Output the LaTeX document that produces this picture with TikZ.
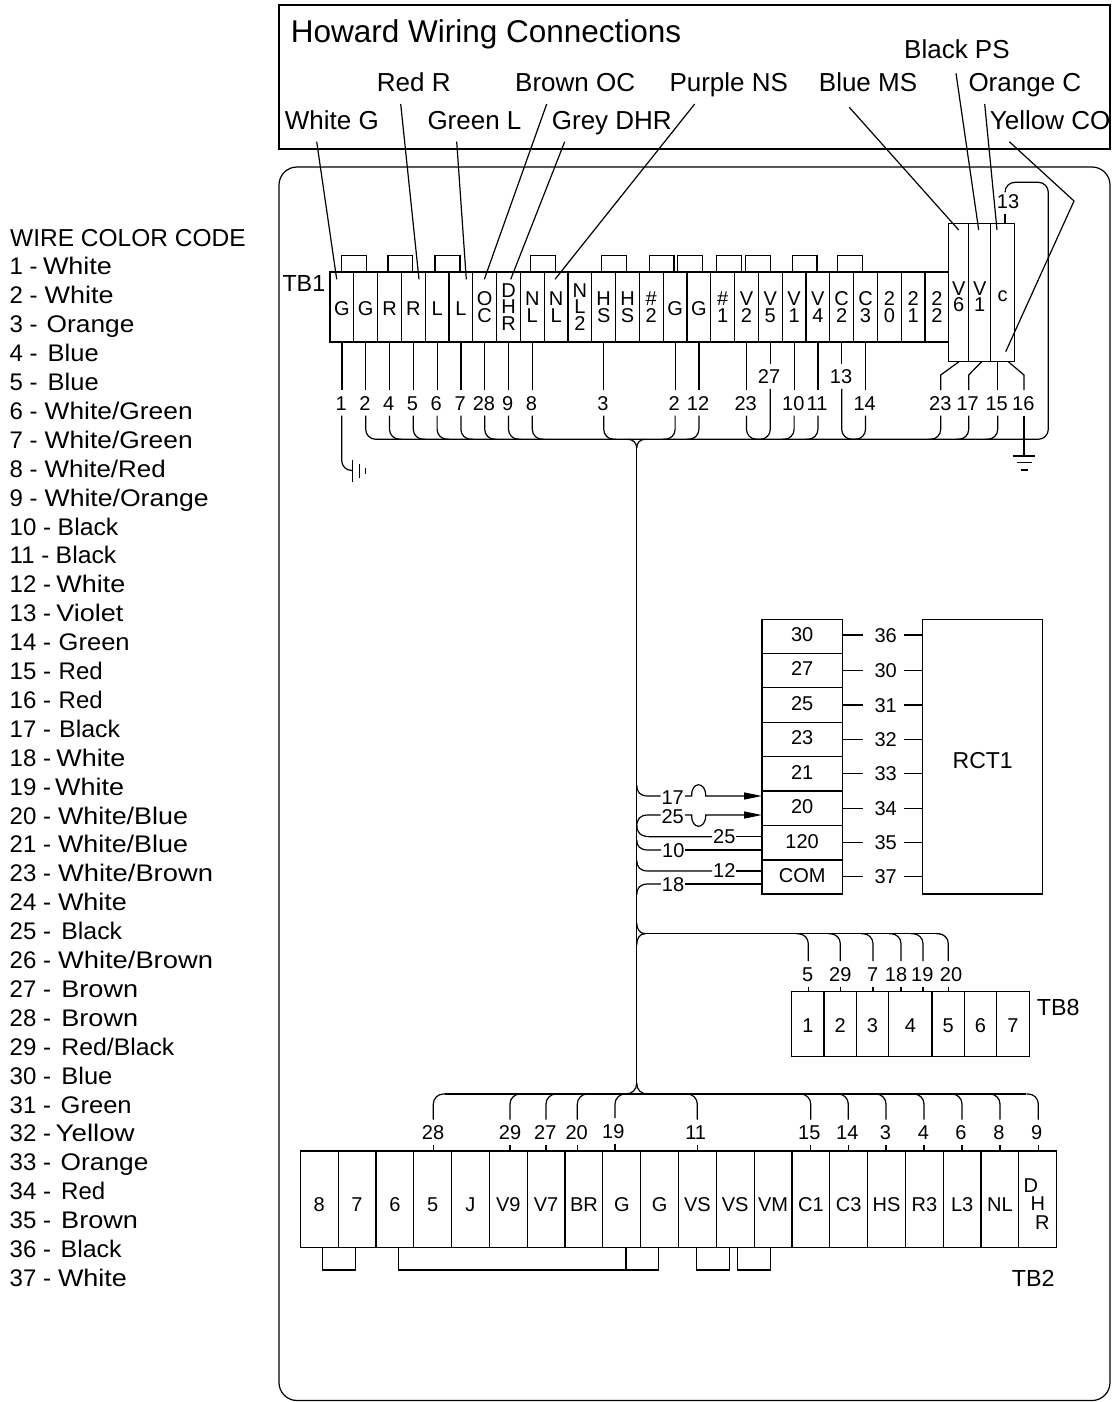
\documentclass[tikz,border=0pt]{standalone}
\usepackage{fontspec}
\setmainfont{Liberation Sans}
\usetikzlibrary{arrows.meta}
\newcommand{\legline}[4]{\makebox[#2pt][l]{#1 -\ }\resizebox{#3pt}{\height}{#4}}
\tikzset{
  x=1pt,y=-1pt,
  ln/.style={line width=1.2pt,black},
  wire/.style={ln,rounded corners=10pt},
  cell/.style={ln,draw,inner sep=0pt,outer sep=0pt,font=\fontsize{20}{16.5}\selectfont},
  lone/.style={text height=17.4pt,text depth=0pt},
  stack/.style={align=center},
  num/.style={font=\fontsize{20}{20}\selectfont,anchor=base,text height=14.3pt,text depth=0pt,inner xsep=0pt,inner ysep=5.5pt,outer sep=0pt},
  lbl/.style={font=\fontsize{26}{26}\selectfont,anchor=base west,inner sep=0pt},
  leg/.style={font=\fontsize{24}{24}\selectfont,anchor=base west,inner sep=0pt},
  tag/.style={font=\fontsize{23.3}{23.3}\selectfont,anchor=base west,inner sep=0pt},
  jump/.style={ln},
  head/.style={-{Triangle[length=18pt,width=7pt]}},
}
\begin{document}
\begin{tikzpicture}
\useasboundingbox (0,0) rectangle (1111,1402);
\fill[white] (0,0) rectangle (1111,1402);
% frames
\node[ln,draw,inner sep=0,outer sep=0,minimum width=831pt,minimum height=144pt] (hdr) at (694.5,77) {};
\draw[ln,rounded corners=18pt] (279,167) rectangle (1110,1400.5);
\node[anchor=base west,inner sep=0,font=\fontsize{31.5}{31.5}\selectfont] (title) at (290.7,42.7) {Howard Wiring Connections};
% legend
\node[anchor=base west,inner sep=0,font=\fontsize{24.5}{24.5}\selectfont] (legh) at (10,246) {WIRE COLOR CODE};
\foreach \nn/\sx/\ww/\word [count=\ci from 1] in {1/33.3/69/White,2/35/69/White,3/37/87.7/Orange,4/38/51/Blue,5/38/51/Blue,6/35/148/{White/Green},7/35/148/{White/Green},8/35/121/{White/Red},9/35/164/{White/Orange},10/48/60.7/Black,11/46/60.7/Black,12/46.7/69/White,13/46.7/67/Violet,14/49/71/Green,15/49/44/Red,16/49/44/Red,17/49.5/61/Black,18/46.7/69/White,19/45.5/69/White,20/48.3/130/{White/Blue},21/48.3/130/{White/Blue},23/48.3/155/{White/Brown},24/48.3/69/White,25/51.7/60.7/Black,26/48.3/155/{White/Brown},27/51.7/76.7/Brown,28/51.7/76.7/Brown,29/51.7/113/{Red/Black},30/51.7/51/Blue,31/51/71/Green,32/46/79/Yellow,33/51/87.7/Orange,34/51.5/44/Red,35/51.5/76.7/Brown,36/51/61/Black,37/48.3/69/White}
  \node[leg] (leg\ci) at (9.5,{246+28.9*\ci}) {\legline{\nn}{\sx}{\ww}{\word}};
% TB1
\foreach \st/\tx [count=\ci from 0] in {lone/G,lone/G,lone/R,lone/R,lone/L,lone/L,stack/{O\\C},stack/{D\\H\\R},stack/{N\\L},stack/{N\\L},stack/{N\\L\\2},stack/{H\\S},stack/{H\\S},stack/{\#\\2},lone/G,lone/G,stack/{\#\\1},stack/{V\\2},stack/{V\\5},stack/{V\\1},stack/{V\\4},stack/{C\\2},stack/{C\\3},stack/{2\\0},stack/{2\\1},stack/{2\\2}}
  \node[cell,\st,minimum width=23.8pt,minimum height=70pt] (c\ci) at ({330+23.8*(\ci+.5)},307) {\tx};
\node[tag] (tb1) at (282.3,291) {TB1};
\foreach \xa/\xb [count=\ci] in {341.7/366.7,388/412.7,435/460,530.3/555.3,601.7/626.3,649.7/674,677.7/702.7,716.7/741.7,745.7/770.3,792.3/817,837.3/862.3}
  \draw[jump] (\xa,272) -- (\xa,255.3) -- (\xb,255.3) -- (\xb,272);
% tall terminals
\node[cell,minimum width=20pt,minimum height=138pt,align=center] (tv6) at (958.7,292.7) {\rule{0pt}{21.3pt}V\\6};
\node[cell,minimum width=22pt,minimum height=138pt,align=center] (tv1) at (979.7,292.7) {\rule{0pt}{21.3pt}V\\1};
\node[cell,minimum width=24pt,minimum height=138pt,text height=18pt,text depth=0pt] (tc) at (1002.7,292.7) {c};
% leader labels
\node[lbl] (lwhite) at (284.7,130) {White G};
\node[lbl] (lred) at (376.7,91.7) {Red R};
\node[lbl] (lgreen) at (427.3,130) {Green L};
\node[lbl] (lbrown) at (515,91.7) {Brown OC};
\node[lbl] (lgrey) at (551.7,130) {Grey DHR};
\node[lbl] (lpurple) at (669.3,91.7) {Purple NS};
\node[lbl] (lblue) at (818.7,91.7) {Blue MS};
\node[lbl] (lblack) at (904,58.3) {Black PS};
\node[lbl] (lorange) at (968.3,91.7) {Orange C};
\node[lbl] (lyellow) at (989.7,130) {Yellow CO};
\draw[ln] (316.7,141.7) -- (336.7,279.3);
\draw[ln] (400.7,104) -- (419,279.3);
\draw[ln] (456.7,141.7) -- (466.3,279.3);
\draw[ln] (546.7,104) -- (484.3,279.3);
\draw[ln] (564.7,141.7) -- (510.7,279.3);
\draw[ln] (694.7,104) -- (555,279.3);
\draw[ln] (849.3,107.3) -- (958.7,230);
\draw[ln] (956,73.3) -- (978.7,230);
\draw[ln] (984.7,104) -- (997,230);
\draw[ln] (1009.3,141.7) -- (1074,201) -- (1005.7,351.7);
% TB1 bus and wires
\coordinate (busa) at (0,439.3);
\coordinate (busb) at (0,1094);
\coordinate (busc) at (0,933.7);
\foreach \ci/\tx/\dr in {1/2/12,2/4/12,3/5/12,4/6/12,5/7/12,6/28/12,7/9/12,8/8/12,11/3/12,14/2/-12,15/12/-12,17/23/12,19/10/-12,20/11/-12,22/14/-12}{
  \path (c\ci.south) ++(-.8,68) node[num] (wa\ci) {\tx};
  \draw[ln] (c\ci.south) -- (c\ci.south |- wa\ci.north);
  \draw[wire] (c\ci.south |- wa\ci.south) -- (c\ci.south |- busa) -- ++(\dr,0);
}
\path (c0.south) ++(-.6,68) node[num] (wa0) {1};
\draw[ln] (c0.south) -- (c0.south |- wa0.north);
\node[num] (wa18) at (769,383.3) {27};
\draw[ln] (c18.south) -- (c18.south |- wa18.north);
\draw[wire] (c18.south |- wa18.south) -- (c18.south |- busa) -- ++(-12,0);
\node[num] (wa21) at (841,383.3) {13};
\draw[ln] (c21.south) -- (c21.south |- wa21.north);
\draw[wire] (c21.south |- wa21.south) -- (c21.south |- busa) -- ++(12,0);
% tall terminal wires
\node[num] (wb1) at (940.3,410) {23};
\node[num] (wb2) at (967.7,410) {17};
\node[num] (wb3) at (996.7,410) {15};
\node[num] (wb4) at (1023.3,410) {16};
\draw[ln] (tv6.south) ++(.3,0) -- (940.7,375) -- (940.7,390);
\draw[ln] (tv1.south) ++(2,0) -- (968.7,375) -- (968.7,390);
\draw[ln] (tc.south) ++(-5,0) -- (997.7,390);
\draw[ln] (tc.south) ++(5.6,0) -- (1024,375) -- (1024,390);
\draw[wire] (940.7,415.5) -- (940.7 ,439.3) -- ++(-12,0);
\draw[wire] (968.7,415.5) -- (968.7,439.3) -- ++(-12,0);
\draw[wire] (997.7,415.5) -- (997.7,439.3) -- ++(-12,0);
\draw[ln] (1024,415.5) -- (1024,456);
% bus with the loop to the 13 stub
\node[num,inner ysep=2pt] (w13) at (1008,208.3) {13};
\draw[ln] (1005,223.7) -- (1005,214);
\draw[wire] (377,439.3) -- (1048.3,439.3) -- (1048.3,182.3) -- (1005,182.3) -- (1005,192);
% grounds
\draw[wire] (341.7,415.5) -- (341.7,470.5) -- (352.3,470.5);
\draw[ln] (352.3,460) -- (352.3,481.7);
\draw[ln] (359.3,464) -- (359.3,477.7);
\draw[ln] (365.7,468) -- (365.7,474);
\draw[ln] (1012.7,456) -- (1035.3,456);
\draw[ln] (1016.7,462.7) -- (1031.7,462.7);
\draw[ln] (1020.7,470) -- (1027.7,470);
% trunk
\coordinate (ttop) at (636.7,448);
\coordinate (tbot) at (636.7,1083);
\draw[ln] (ttop) -- (tbot);
\draw[ln] (628,439.3) .. controls (633,439.3) and (636.7,443) .. (ttop);
\draw[ln] (645,439.3) .. controls (640,439.3) and (636.7,443) .. (ttop);
\draw[ln] (tbot) .. controls (636.7,1090) and (632,1094) .. (625,1094);
\draw[ln] (tbot) .. controls (636.7,1090) and (641,1094) .. (648,1094);
\draw[ln] (636.7,923) .. controls (636.7,929) and (640,933.7) .. (645,933.7);
\draw[ln] (645,933.7) .. controls (640,933.7) and (636.7,938) .. (636.7,945);
% connector block and RCT1
\foreach \tx/\ya/\yb/\st/\ci in {30/619.3/653.3/36/1,27/653.3/687.7/30/2,25/687.7/722.3/31/3,23/722.3/756.7/32/4,21/756.7/791/33/5,20/791/825.7/34/6,120/825.7/860/35/7,COM/860/894/37/8}{
  \node[cell,minimum width=80.3pt,minimum height={(\yb-\ya)*1pt},text height=14.3pt,text depth=3.5pt] (r\ci) at (802.15,{(\ya+\yb)/2}) {\tx};
}
\node[ln,draw,inner sep=0,outer sep=0,minimum width=120pt,minimum height=274.7pt,text height=23pt,text depth=0pt,font=\fontsize{23}{23}\selectfont] (rct) at (982.7,756.65) {RCT1};
\foreach \ci/\tx/\yy in {1/36/635,2/30/670.7,3/31/705,4/32/739.3,5/33/773.7,6/34/808.3,7/35/842.7,8/37/876.7}{
  \node[num] (q\ci) at (885.7,{\yy+7}) {\tx};
  \draw[ln] (r\ci.east |- 0,\yy) -- ++(21,0);
  \draw[ln] (rct.west |- 0,\yy) -- ++(-18.7,0);
}
% wires into the block
\node[num,inner xsep=1pt] (l17) at (672.7,804.3) {17};
\node[num,inner xsep=1pt] (l25a) at (672.7,823.3) {25};
\node[num,inner xsep=1pt] (l25b) at (724.3,843.3) {25};
\node[num,inner xsep=1pt] (l10) at (673.3,857.7) {10};
\node[num,inner xsep=1pt] (l12) at (724.3,877.3) {12};
\node[num,inner xsep=1pt] (l18) at (673,891.7) {18};
\draw[ln] (636.7,785) .. controls (636.7,792) and (640,796) .. (648,796) -- (l17.west |- 0,796);
\draw[ln,head] (l17.east |- 0,796) -- (691.7,796) .. controls (691,781) and (706,781) .. (705.7,796) -- (r6.west |- 0,796);
\draw[ln] (636.7,826.7) .. controls (636.7,819) and (640,815) .. (648,815) -- (l25a.west |- 0,815);
\draw[ln,head] (l25a.east |- 0,815) -- (691.7,815) .. controls (691,830) and (706,830) .. (705.7,815) -- (r6.west |- 0,815);
\draw[ln] (636.7,825) .. controls (636.7,832) and (640,836.7) .. (650,836.7) -- (l25b.west |- 0,836.7);
\draw[ln] (l25b.east |- 0,836.7) -- (r7.west |- 0,836.7);
\draw[ln] (636.7,840) .. controls (636.7,846) and (640,850) .. (648,850) -- (l10.west |- 0,850);
\draw[ln] (l10.east |- 0,850) -- (r7.west |- 0,850);
\draw[ln] (636.7,860) .. controls (636.7,867) and (640,871) .. (648,871) -- (l12.west |- 0,871);
\draw[ln] (l12.east |- 0,871) -- (r8.west |- 0,871);
\draw[ln] (636.7,895) .. controls (636.7,888) and (640,884) .. (648,884) -- (l18.west |- 0,884);
\draw[ln] (l18.east |- 0,884) -- (r8.west |- 0,884);
% TB8
\foreach \tx/\xa/\xb [count=\ci from 0] in {1/791.7/824,2/824/856.3,3/856.3/888.7,4/888.7/932,5/932/964.3,6/964.3/996.7,7/996.7/1029.3}
  \node[cell,minimum width={(\xb-\xa)*1pt},minimum height=65pt,text height=17pt,text depth=0pt] (h\ci) at ({(\xa+\xb)/2},1024.2) {\tx};
\node[tag] (tb8) at (1036.7,1015) {TB8};
\draw[ln] (645,933.7) -- (940,933.7);
\foreach \ci/\wx/\lx/\tx in {0/808.3/807.7/5,1/840.3/840.3/29,2/873/872.7/7,3/901/896/18,3/923/922.3/19,4/948.3/951/20}{
  \node[num] (wh\tx) at (\lx,981) {\tx};
  \draw[wire] (\wx,0 |- wh\tx.north) -- (\wx,0 |- busc) -- ++(-12,0);
  \draw[ln] (\wx,0 |- wh\tx.south) -- (\wx,0 |- h\ci.north);
}
% TB2
\foreach \st/\tx [count=\ci from 0] in {lone/8,lone/7,lone/6,lone/5,lone/J,lone/V9,lone/V7,lone/BR,lone/G,lone/G,lone/VS,lone/VS,lone/VM,lone/C1,lone/C3,lone/HS,lone/R3,lone/L3,lone/NL}
  \node[cell,minimum width=37.82pt,minimum height=96.7pt,text height=23.3pt,text depth=0pt] (g\ci) at ({300.3+37.82*(\ci+.5)},1199.35) {\tx};
\node[cell,minimum width=37.82pt,minimum height=96.7pt,align=center,font=\fontsize{20}{18.2}\selectfont] (g19) at ({300.3+37.82*19.5},1199.35) {\rule{0pt}{23pt}D\hspace*{14pt}\\H\\\hspace*{9pt}R};
\node[tag] (tb2) at (1011.7,1286) {TB2};
\draw[jump] (322.7,1247.7) -- (322.7,1270) -- (355.7,1270) -- (355.7,1247.7);
\draw[jump] (398.7,1247.7) -- (398.7,1270) -- (658.7,1270) -- (658.7,1247.7);
\draw[jump] (626,1247.7) -- (626,1270);
\draw[jump] (696.7,1247.7) -- (696.7,1270) -- (729.3,1270) -- (729.3,1247.7);
\draw[jump] (737.3,1247.7) -- (737.3,1270) -- (770.3,1270) -- (770.3,1247.7);
\draw[ln] (445,1094) -- (1026,1094);
\foreach \ci/\wx/\lx/\yy/\tx/\dr in {3/433.3/433/1139.3/28/12,5/510/510/1139.3/29/12,6/546/545.3/1139.3/27/12,7/577.3/576.7/1139.3/20/12,8/615/613.3/1138/19/12,10/697.3/695.7/1139.3/11/-12,13/810.7/809.3/1139.3/15/-12,14/848.3/847.3/1139.3/14/-12,15/886/885.3/1139.3/3/-12,16/924/923.3/1139.3/4/-12,17/962/961/1139.3/6/-12,18/1000/999/1139.3/8/-12,19/1038.3/1036.7/1139.3/9/-12}{
  \node[num] (wg\ci) at (\lx,\yy) {\tx};
  \draw[wire] (\wx,0 |- wg\ci.north) -- (\wx,0 |- busb) -- ++(\dr,0);
  \draw[ln] (\wx,0 |- wg\ci.south) -- (\wx,0 |- g\ci.north);
}
\end{tikzpicture}
\end{document}
